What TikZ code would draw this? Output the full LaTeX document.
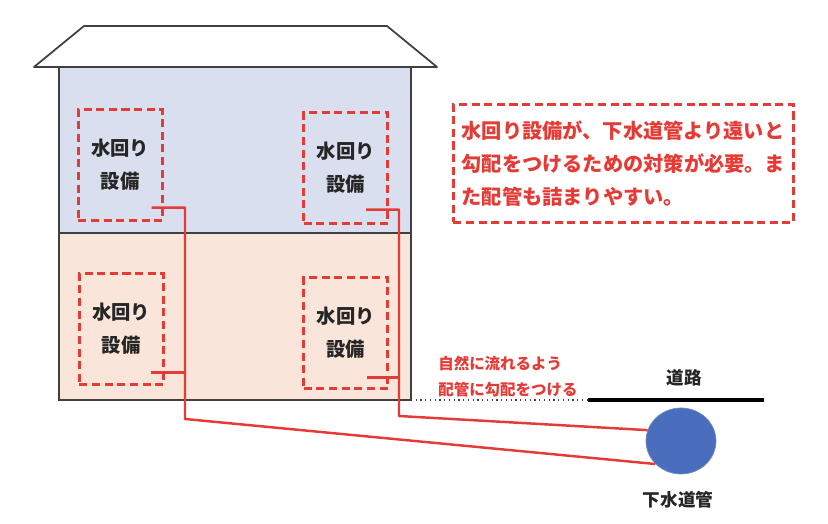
\documentclass[tikz,border=0pt]{standalone}
\usepackage{fontspec}
\setmainfont{Noto Sans CJK JP}
\usepackage{xcolor}
\usetikzlibrary{calc,positioning,shapes.geometric}
\definecolor{pipered}{HTML}{E53B36}
\definecolor{wallgray}{HTML}{404040}
\definecolor{upperfill}{HTML}{D9DFEE}
\definecolor{lowerfill}{HTML}{F9E5D9}
\definecolor{sewerblue}{HTML}{4A6EBD}
\tikzset{
  floorbox/.style={draw=wallgray, line width=1pt, minimum width=7.04cm, outer sep=0pt, inner sep=0pt},
  wetbox/.style={draw=pipered, line width=1.5pt, dash pattern=on 4.6pt off 2.6pt, minimum width=1.68cm,
    minimum height=2.22cm, align=center, inner sep=0pt, text=black!85,
    font=\fontsize{11}{18.7}\selectfont\bfseries},
  notebox/.style={draw=pipered, line width=1.6pt, dash pattern=on 4.6pt off 2.6pt, minimum width=6.80cm,
    minimum height=2.36cm, align=left, inner sep=0pt, text=pipered,
    font=\fontsize{11.5}{18.8}\selectfont\bfseries},
  pipe/.style={draw=pipered, line width=1.4pt},
  blacklabel/.style={text=black!85, inner sep=0pt, font=\fontsize{10}{12}\selectfont\bfseries},
  redlabel/.style={text=pipered, inner sep=0pt, align=left, font=\fontsize{8.8}{14.7}\selectfont\bfseries}
}
\begin{document}
\begin{tikzpicture}
  \useasboundingbox (0,0) rectangle (16.56,10.48);

  % house: two floors and the roof on top
  \node[floorbox, fill=upperfill, minimum height=3.32cm] (upper) at (4.70,7.48) {};
  \node[floorbox, fill=lowerfill, minimum height=3.34cm, below=0cm of upper] (lower) {};
  \draw[draw=wallgray, line width=1pt, line join=round] ($(upper.north west)+(-0.5,0)$) -- ++(1.0,0.82)
    -- ++(6.06,0) -- ($(upper.north east)+(0.52,0)$) -- cycle;

  % wet areas
  \node[wetbox, below right=0.82cm and 0.36cm of upper.north west] (wetul) {水回り\\設備};
  \node[wetbox, below left=0.88cm and 0.44cm of upper.north east] (wetur) {水回り\\設備};
  \node[wetbox, below right=0.78cm and 0.38cm of lower.north west] (wetll) {水回り\\設備};
  \node[wetbox, below left=0.86cm and 0.44cm of lower.north east] (wetlr) {水回り\\設備};

  % road line, sewer below it
  \coordinate (roadstart) at (lower.south east);
  \coordinate (roadmid) at ($(roadstart)+(3.54,0)$);
  \coordinate (roadend) at ($(roadmid)+(3.52,0)$);
  \draw[dotted, line width=0.7pt, wallgray] (roadstart) -- (roadmid);
  \draw[line width=1.8pt] (roadmid) -- (roadend);
  \node[blacklabel, above=0.28cm of roadmid, xshift=1.92cm] (road) {道路};
  \node[ellipse, fill=sewerblue, draw=sewerblue!80!white, thin, minimum width=1.4cm, minimum height=1.32cm, inner sep=0pt] (sewer) at (13.62,1.66) {};
  \node[blacklabel, below=0.34cm of sewer, xshift=-0.06cm] (sewerlabel) {下水道管};

  % pipes: each branch joins a drop, then runs on down to the sewer
  \coordinate (ulstart) at ($(wetul.south east)+(-0.24,0.28)$);
  \coordinate (urstart) at ($(wetur.south east)+(-0.46,0.3)$);
  \coordinate (llstart) at ($(wetll.south east)+(-0.28,0.26)$);
  \coordinate (lrstart) at ($(wetlr.south east)+(-0.44,0.24)$);
  \coordinate (dropl) at (3.70,2.10);
  \coordinate (dropr) at (7.98,2.16);
  \draw[pipe, line join=round] (ulstart) -| (dropl) -- (sewer.222);
  \draw[pipe, line join=round] (urstart) -| (dropr) -- (sewer.162);
  \draw[pipe] (llstart) -- (llstart -| dropl);
  \draw[pipe] (lrstart) -- (lrstart -| dropr);

  % notes
  \node[redlabel, anchor=south west] (slopelabel) at (8.76,2.54) {自然に流れるよう\\配管に勾配をつける};
  \node[notebox, anchor=north west] (note) at (9.04,8.42) {水回り設備が、下水道管より遠いと\\勾配をつけるための対策が必要。ま\\た配管も詰まりやすい。};
\end{tikzpicture}
\end{document}
